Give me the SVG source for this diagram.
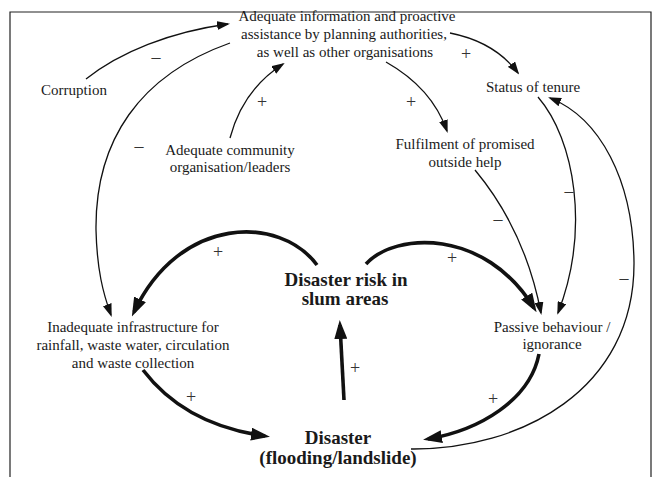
<svg xmlns="http://www.w3.org/2000/svg" width="656" height="477" viewBox="0 0 656 477">
  <style>
    .n { font-size: 15px; }
    .b { font-size: 19px; font-weight: bold; }
    .s { font-size: 18px; }
    .thin { fill: none; stroke: #111; stroke-width: 1.3; }
    .thick { fill: none; stroke: #111; stroke-width: 3.6; }
  </style>
  <defs>
    <marker id="ah" viewBox="0 0 13 9" markerWidth="13" markerHeight="9" refX="11" refY="4.5" orient="auto" markerUnits="userSpaceOnUse">
      <path d="M0,0 L13,4.5 L0,9 z" fill="#111"/>
    </marker>
    <marker id="ahb" viewBox="0 0 19 13" markerWidth="19" markerHeight="13" refX="14" refY="6.5" orient="auto" markerUnits="userSpaceOnUse">
      <path d="M0,0 L19,6.5 L0,13 z" fill="#111"/>
    </marker>
  </defs>
  <rect width="656" height="477" fill="#fff"/>
  <path d="M10,477 V12 H651 V477" fill="none" stroke="#222" stroke-width="1.2"/>

  <g font-family="Liberation Serif, Times New Roman, Tinos, DejaVu Serif, serif" fill="#1a1a1a" text-anchor="middle">
  <g id="connectors">
    <path class="thin" d="M86,79 C120,52 170,32 228,24" marker-end="url(#ah)"/>
    <path class="thin" d="M230,43 C140,75 95,140 96,230 C97,270 103,293 111,315" marker-end="url(#ah)"/>
    <path class="thin" d="M230,138 C238,108 255,82 283,64" marker-end="url(#ah)"/>
    <path class="thin" d="M450,33 Q495,42 518,73" marker-end="url(#ah)"/>
    <path class="thin" d="M386,62 Q432,88 447,131" marker-end="url(#ah)"/>
    <path class="thin" d="M475,170 Q525,230 541,313" marker-end="url(#ah)"/>
    <path class="thin" d="M538,97 C575,140 590,230 558,313" marker-end="url(#ah)"/>
    <path class="thin" d="M411,449 C520,450 635,390 634,262 C633,180 600,118 550,98" marker-end="url(#ah)"/>
    <path class="thick" d="M317,265 C280,215 180,215 134,312" marker-end="url(#ahb)"/>
    <path class="thick" d="M366,264 C395,232 485,228 534,308" marker-end="url(#ahb)"/>
    <path class="thick" d="M143,370 Q185,425 265,436" marker-end="url(#ahb)"/>
    <path class="thick" d="M344,400 L340,325" marker-end="url(#ahb)"/>
    <path class="thick" d="M539,354 C530,400 480,430 428,439" marker-end="url(#ahb)"/>
    <g id="polarities" fill="#333">
      <text class="s" x="156" y="63">–</text>
      <text class="s" x="139" y="152">–</text>
      <text class="s" x="262" y="108">+</text>
      <text class="s" x="466" y="60">+</text>
      <text class="s" x="411" y="108">+</text>
      <text class="s" x="498" y="225">–</text>
      <text class="s" x="569" y="197">–</text>
      <text class="s" x="624" y="284">–</text>
      <text class="s" x="218" y="258">+</text>
      <text class="s" x="452" y="264">+</text>
      <text class="s" x="191" y="403">+</text>
      <text class="s" x="355" y="374">+</text>
      <text class="s" x="493" y="405">+</text>
    </g>
  </g>

  <g id="adequate-information">
    <text class="n" x="347" y="21">Adequate information and proactive</text>
    <text class="n" x="344" y="39">assistance by planning authorities,</text>
    <text class="n" x="345" y="57">as well as other organisations</text>
  </g>
  <g id="corruption">
    <text class="n" x="74" y="95">Corruption</text>
  </g>
  <g id="community">
    <text class="n" x="230" y="155">Adequate community</text>
    <text class="n" x="230" y="172">organisation/leaders</text>
  </g>
  <g id="tenure">
    <text class="n" x="533" y="92">Status of tenure</text>
  </g>
  <g id="fulfilment">
    <text class="n" x="465" y="149">Fulfilment of promised</text>
    <text class="n" x="465" y="167">outside help</text>
  </g>
  <g id="disaster-risk">
    <text class="b" x="346" y="286">Disaster risk in</text>
    <text class="b" x="345" y="305">slum areas</text>
  </g>
  <g id="infrastructure">
    <text class="n" x="133" y="332">Inadequate infrastructure for</text>
    <text class="n" x="133" y="350">rainfall, waste water, circulation</text>
    <text class="n" x="133" y="368">and waste collection</text>
  </g>
  <g id="passive">
    <text class="n" x="552" y="332">Passive behaviour /</text>
    <text class="n" x="552" y="349">ignorance</text>
  </g>
  <g id="disaster">
    <text class="b" x="338" y="444">Disaster</text>
    <text class="b" x="338" y="464">(flooding/landslide)</text>
  </g>
  </g>
</svg>
